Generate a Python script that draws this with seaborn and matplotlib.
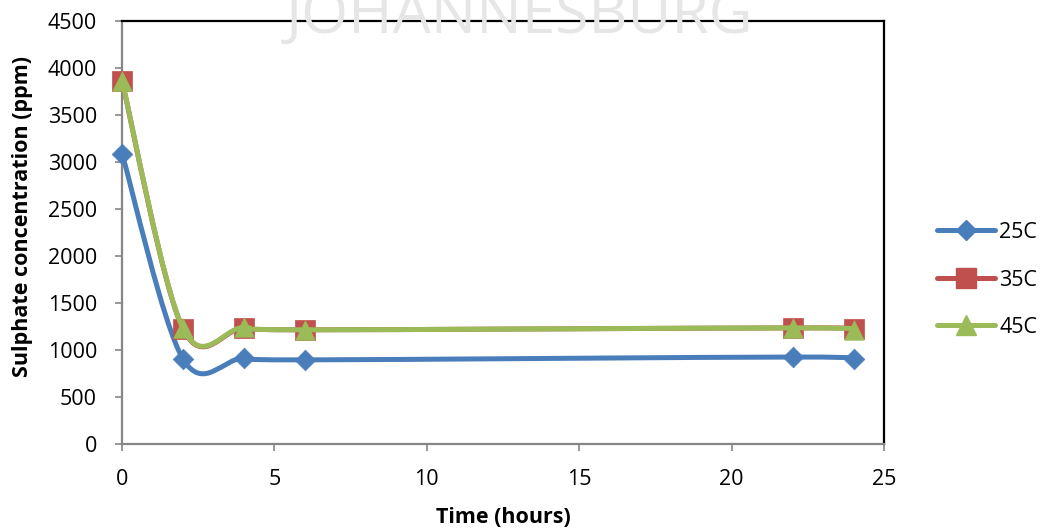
import numpy as np
import pandas as pd
import matplotlib
matplotlib.use("Agg")
import matplotlib.pyplot as plt
from matplotlib.path import Path
from matplotlib.patches import PathPatch
from matplotlib.lines import Line2D
import seaborn as sns

# Sampling times (hours) and measured sulphate (ppm) per temperature
time_h = [0, 2, 4, 6, 22, 24]
sulphate_25c = [3090, 905, 915, 895, 925, 900]
sulphate_35c = [3860, 1225, 1235, 1215, 1235, 1225]
sulphate_45c = [3865, 1230, 1240, 1215, 1235, 1215]
series_labels = ["25C", "35C", "45C"]
x_ticks = [0, 5, 10, 15, 20, 25]
y_ticks = [0, 500, 1000, 1500, 2000, 2500, 3000, 3500, 4000, 4500]

colors = {"25C": "#4A7EBB", "35C": "#C0504D", "45C": "#9BBB59"}
markers = {"25C": "D", "35C": "s", "45C": "^"}
msizes = {"25C": 10.5, "35C": 14, "45C": 14}

sns.set_theme(style="white")
plt.rcParams["font.family"] = ["Open Sans", "DejaVu Sans"]
plt.rcParams["text.color"] = "black"
plt.rcParams["axes.labelcolor"] = "black"

FS = 15.5

fig = plt.figure(figsize=(10.41, 5.30), dpi=100)
ax = fig.add_axes([122 / 1041, 1 - 444 / 530, (884 - 122) / 1041, (444 - 21) / 530])

df = pd.DataFrame({
    "time": time_h * 3,
    "sulphate": sulphate_25c + sulphate_35c + sulphate_45c,
    "series": [s for s in series_labels for _ in time_h],
})


def smooth_path(xs, ys):
    """Catmull-Rom style cubic Bezier through every point (Excel-like smoothing)."""
    pts = np.column_stack([xs, ys]).astype(float)
    n = len(pts)
    verts = [pts[0]]
    codes = [Path.MOVETO]
    for i in range(n - 1):
        p0 = pts[i - 1] if i > 0 else pts[i]
        p1 = pts[i]
        p2 = pts[i + 1]
        p3 = pts[i + 2] if i + 2 < n else pts[i + 1]
        c1 = p1 + (p2 - p0) / 6.0
        c2 = p2 - (p3 - p1) / 6.0
        verts += [c1, c2, p2]
        codes += [Path.CURVE4] * 3
    return Path(verts, codes)


for k, label in enumerate(series_labels):
    sub = df[df["series"] == label]
    patch = PathPatch(smooth_path(sub["time"].values, sub["sulphate"].values),
                      facecolor="none", edgecolor=colors[label], lw=3.6,
                      capstyle="round", joinstyle="round", zorder=2 + 2 * k)
    ax.add_patch(patch)
    sns.scatterplot(data=sub, x="time", y="sulphate", ax=ax, marker=markers[label],
                    s=msizes[label] ** 2, color=colors[label], edgecolor=colors[label],
                    linewidth=0.5, zorder=3 + 2 * k, legend=False, clip_on=False)

ax.set_xlim(0, 25)
ax.set_ylim(0, 4500)
ax.set_xticks(x_ticks)
ax.set_yticks(y_ticks)
ax.tick_params(axis="both", which="major", labelsize=FS, labelcolor="black",
               color="#868686", length=5, width=1.2, direction="out")
ax.tick_params(axis="y", pad=13)
ax.tick_params(axis="x", pad=13)
ax.xaxis.set_ticks_position("bottom")
ax.yaxis.set_ticks_position("left")

for side in ["left", "bottom"]:
    ax.spines[side].set_color("#868686")
    ax.spines[side].set_linewidth(1.6)
for side in ["top", "right"]:
    ax.spines[side].set_color("#000000")
    ax.spines[side].set_linewidth(1.6)
    ax.spines[side].set_visible(True)
ax.set_facecolor("white")

ax.set_xlabel("Time (hours)", fontsize=FS, fontweight="bold", labelpad=12)
ax.set_ylabel("Sulphate concentration (ppm)", fontsize=FS, fontweight="bold", va="center")
ax.yaxis.set_label_coords(-0.131, 0.539)

handles = [Line2D([0], [0], color=colors[l], lw=3.6, marker=markers[l],
                  markersize=msizes[l], markeredgecolor=colors[l]) for l in series_labels]
fig.legend(handles, series_labels, loc="center left", bbox_to_anchor=(937 / 1041, 1 - 280 / 530),
           frameon=False, fontsize=FS, handlelength=2.7, handletextpad=0.2,
           labelspacing=1.23, borderpad=0, borderaxespad=0)

# Faint header text along the top edge
fig.text(520 / 1041, 1 - 33 / 530, "JOHANNESBURG", ha="center", va="baseline",
         fontsize=43.5, color="#E6E6E6", zorder=0)

fig.savefig("out.png", dpi=100, facecolor="white")
